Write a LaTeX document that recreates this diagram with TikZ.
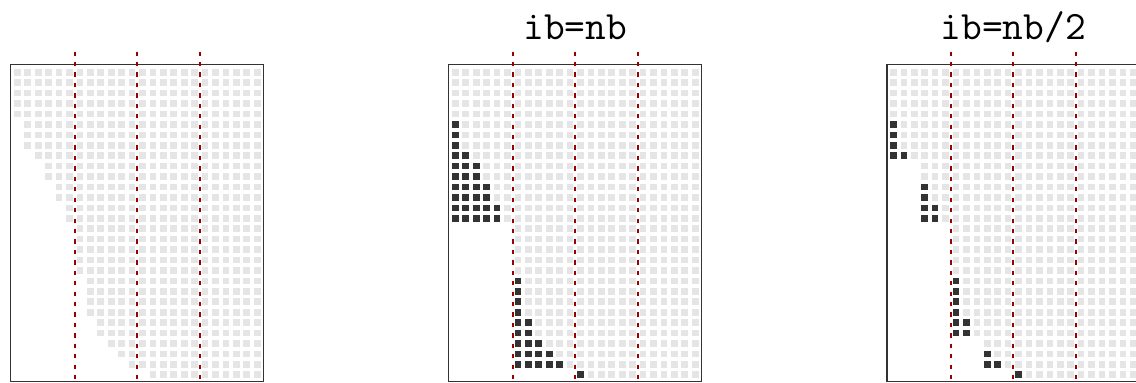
\documentclass[tikz,border=0pt]{standalone}
\usepackage{fontspec}

\begin{document}
\begin{tikzpicture}[x=10pt, y=10pt,
        emptycell/.style={fill=black!10},
        fullcell/.style={fill=black!80},
        frame/.style={draw=black!80, line width=1.1pt},
        blockline/.style={draw=red!60!black, line width=1.9pt, dash pattern=on 4.1pt off 5.9pt},
        heading/.style={anchor=base, font=\ttfamily\fontsize{38.6}{44}\selectfont}]
        \useasboundingbox (-1.16,-30.29) rectangle (107.76,6.43);

        % Light cells, the same in all three panels
        \foreach \dx in {0,42,84}
          \foreach \s [count=\row from 0] in {0,0,0,0,0,1,1,1,2,3,3,4,4,5,5,6,6,6,6,6,7,7,7,7,8,8,9,10,11,13}
            \foreach \col in {\s,...,23}
              \fill[emptycell] (\dx+\col+0.18,-\row-0.18) rectangle ++(0.64,-0.64);

        % Dark cells, ib=nb
        \foreach \row/\from/\upto in {5/0/0,6/0/0,7/0/0,8/0/1,9/0/2,10/0/2,11/0/3,12/0/3,13/0/4,14/0/4,
                20/6/6,21/6/6,22/6/6,23/6/6,24/6/7,25/6/7,26/6/8,27/6/9,28/6/10,29/12/12}
          \foreach \col in {\from,...,\upto}
            \fill[fullcell] (42+\col+0.18,-\row-0.18) rectangle ++(0.64,-0.64);

        % Dark cells, ib=nb/2
        \foreach \row/\from/\upto in {5/0/0,6/0/0,7/0/0,8/0/1,11/3/3,12/3/3,13/3/4,14/3/4,
                20/6/6,21/6/6,22/6/6,23/6/6,24/6/7,25/6/7,27/9/9,28/9/10,29/12/12}
          \foreach \col in {\from,...,\upto}
            \fill[fullcell] (84+\col+0.18,-\row-0.18) rectangle ++(0.64,-0.64);

        % Frames and block borders
        \foreach \dx in {0,42,84} {
          \draw[frame] (\dx-0.12,0.23) rectangle (\dx+24.1,-30.14);
          \foreach \b in {6,12,18}
            \draw[blockline] (\dx+\b,1.48) -- (\dx+\b,-30.14);
        }

        % Titles
        \node[heading] (fulltitle) at (54,2.67) {ib=nb};
        \node[heading] (halftitle) at (96,2.67) {ib=nb/2};
    \end{tikzpicture}
\end{document}
